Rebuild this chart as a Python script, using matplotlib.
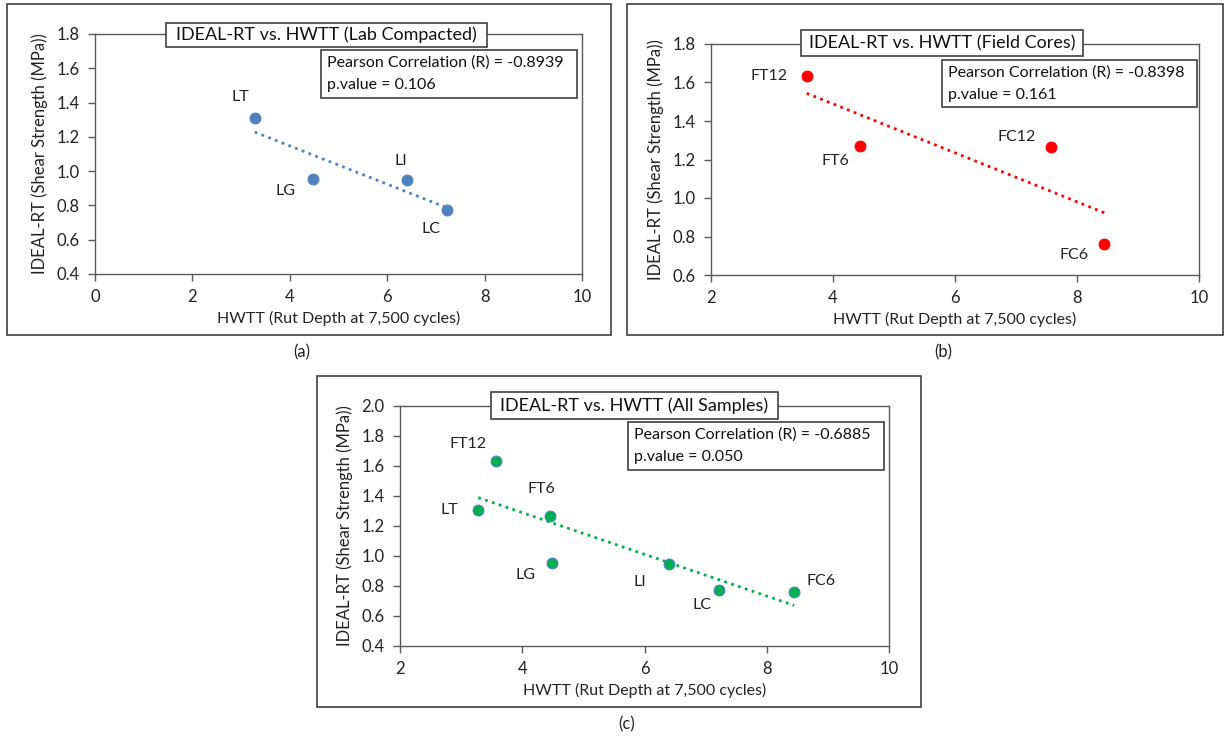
import numpy as np
import matplotlib
matplotlib.use("Agg")
import matplotlib.pyplot as plt
from matplotlib.patches import Rectangle

plt.rcParams['font.family'] = ['Lato', 'DejaVu Sans']

# ---------------- data ----------------
lab_names = ["LT", "LG", "LI", "LC"]
lab_x = [3.28, 4.48, 6.40, 7.22]
lab_y = [1.31, 0.955, 0.948, 0.775]

field_names = ["FT12", "FT6", "FC12", "FC6"]
field_x = [3.57, 4.45, 7.58, 8.45]
field_y = [1.635, 1.27, 1.265, 0.762]

all_names = ["FT12", "FT6", "LT", "LG", "LI", "LC", "FC6"]
all_x = [3.57, 4.45, 3.28, 4.48, 6.40, 7.22, 8.45]
all_y = [1.635, 1.27, 1.31, 0.955, 0.948, 0.775, 0.762]

titles = ["IDEAL-RT vs. HWTT (Lab Compacted)",
          "IDEAL-RT vs. HWTT (Field Cores)",
          "IDEAL-RT vs. HWTT (All Samples)"]
stats = [("-0.8939", "0.106"), ("-0.8398", "0.161"), ("-0.6885", "0.050")]
panel_tags = ["(a)", "(b)", "(c)"]

xlabel = "HWTT (Rut Depth at 7,500 cycles)"
ylabel = "IDEAL-RT (Shear Strength (MPa))"

# ---------------- layout (pixels) ----------------
W, H = 1225, 736
fig = plt.figure(figsize=(W / 100, H / 100), dpi=100)


def fx(px):
    return px / W


def fy(py):
    return 1 - py / H


def rect(x0, y0, x1, y1, **kw):
    fig.patches.append(Rectangle((fx(x0), fy(y1)), fx(x1) - fx(x0), fy(y0) - fy(y1),
                                 transform=fig.transFigure, figure=fig, **kw))


panels = [
    dict(names=lab_names, x=lab_x, y=lab_y, color="#4F81BD", edge="#4F81BD",
         ax=(95, 34, 582, 274), xlim=(0, 10), ylim=(0.4, 1.8), ystep=0.2, xstep=2,
         frame=(7, 4, 611, 335), tbox=(166, 23, 487, 47), sbox=(321, 50, 577, 98),
         tag=(302, 352),
         offs=[(-10, 15), (-20, -9), (-4, 14), (-11, -14)]),
    dict(names=field_names, x=field_x, y=field_y, color="#FF0000", edge="#FF0000",
         ax=(711, 44, 1199, 275), xlim=(2, 10), ylim=(0.6, 1.8), ystep=0.2, xstep=2,
         frame=(627, 4, 1223, 335), tbox=(801, 30, 1083, 56), sbox=(942, 60, 1197, 107),
         tag=(943, 352),
         offs=[(-27, 0), (-18, -11), (-25, 7), (-22, -8)]),
    dict(names=all_names, x=all_x, y=all_y, color="#00B050", edge="#4F81BD",
         ax=(400, 406, 889, 646), xlim=(2, 10), ylim=(0.4, 2.0), ystep=0.2, xstep=2,
         frame=(317, 376, 921, 707), tbox=(491, 392, 778, 419), sbox=(628, 422, 884, 470),
         tag=(627, 724),
         offs=[(-20, 12), (-6, 19), (-21, 0), (-19, -9), (-21, -13), (-12, -11), (19, 8)]),
]

frame_col = "#404040"
axis_col = "#595959"

for i, p in enumerate(panels):
    # outer frame
    x0, y0, x1, y1 = p["frame"]
    rect(x0, y0, x1, y1, fill=False, edgecolor=frame_col, linewidth=1.2, zorder=0)

    ax0, ay0, ax1, ay1 = p["ax"]
    ax = fig.add_axes([fx(ax0), fy(ay1), fx(ax1) - fx(ax0), fy(ay0) - fy(ay1)])
    ax.set_xlim(*p["xlim"])
    ax.set_ylim(*p["ylim"])
    ax.set_xticks(np.arange(p["xlim"][0], p["xlim"][1] + 0.001, p["xstep"]))
    yt = np.arange(p["ylim"][0], p["ylim"][1] + 0.001, p["ystep"])
    ax.set_yticks(yt)
    ax.set_xticklabels([f"{v:g}" for v in ax.get_xticks()])
    ax.set_yticklabels([f"{v:.1f}" for v in yt])
    for s in ax.spines.values():
        s.set_color(axis_col)
        s.set_linewidth(1.0)
    ax.tick_params(direction="out", length=5, width=1, color=axis_col,
                   labelsize=12, labelcolor="#222222", pad=6)
    ax.set_xlabel(xlabel, fontsize=11.5, color="#222222", labelpad=4)
    ax.set_ylabel(ylabel, fontsize=12, color="#222222", labelpad=6)

    # trend line
    xs = np.array(p["x"])
    ys = np.array(p["y"])
    k, b = np.polyfit(xs, ys, 1)
    xl = np.array([xs.min(), xs.max()])
    ax.plot(xl, k * xl + b, linestyle=(0, (1, 1.6)), color=p["color"], linewidth=2,
            zorder=2)

    ax.scatter(xs, ys, s=60, color=p["color"], edgecolors=p["edge"], linewidths=0.8,
               zorder=3)
    for name, xv, yv, off in zip(p["names"], p["x"], p["y"], p["offs"]):
        ax.annotate(name, (xv, yv), xytext=off, textcoords="offset points",
                    ha="center", va="center", fontsize=11.5, color="#222222")

    # title box
    tx0, ty0, tx1, ty1 = p["tbox"]
    rect(tx0, ty0, tx1, ty1, facecolor="white", edgecolor=frame_col, linewidth=1.2,
         zorder=5)
    fig.text(fx((tx0 + tx1) / 2), fy((ty0 + ty1) / 2), titles[i], ha="center",
             va="center", fontsize=13, color="#111111", zorder=6)

    # stats box
    sx0, sy0, sx1, sy1 = p["sbox"]
    rect(sx0, sy0, sx1, sy1, facecolor="white", edgecolor=frame_col, linewidth=1.2,
         zorder=5)
    r, pv = stats[i]
    fig.text(fx(sx0 + 6), fy(sy0 + 13), f"Pearson Correlation (R) = {r}", ha="left",
             va="center", fontsize=11.5, color="#111111", zorder=6)
    fig.text(fx(sx0 + 6), fy(sy0 + 35), f"p.value = {pv}", ha="left",
             va="center", fontsize=11.5, color="#111111", zorder=6)

    # panel tag
    fig.text(fx(p["tag"][0]), fy(p["tag"][1]), panel_tags[i], ha="center", va="center",
             fontsize=12, color="#222222")

fig.savefig("out.png", dpi=100)
